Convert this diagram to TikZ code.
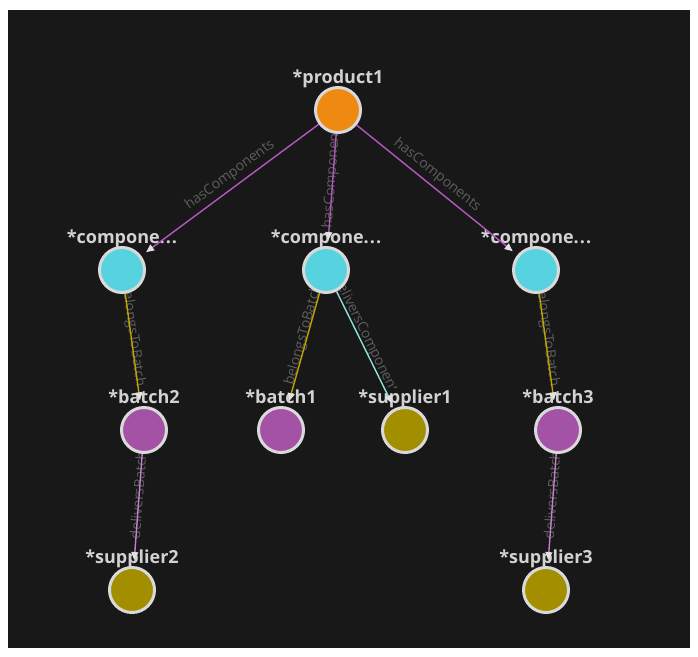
\documentclass[tikz,border=0pt]{standalone}
\usepackage{fontspec}
\setmainfont{Open Sans}
\usetikzlibrary{arrows.meta,calc}

\definecolor{canvasbg}{HTML}{181818}
\definecolor{ringc}{HTML}{D9D9D9}
\definecolor{namec}{HTML}{D2D2D2}
\definecolor{edgetextc}{HTML}{5E5E5E}
\definecolor{arrowc}{HTML}{E2E2E2}
\definecolor{prodc}{HTML}{EE8A12}
\definecolor{compc}{HTML}{57D3E0}
\definecolor{batchc}{HTML}{A352A5}
\definecolor{supc}{HTML}{A38E00}
\definecolor{hascc}{HTML}{B457C0}
\definecolor{belongc}{HTML}{BFA300}
\definecolor{delcc}{HTML}{8FE0DC}
\definecolor{delbc}{HTML}{C97DD0}

\pgfdeclarelayer{bg}
\pgfdeclarelayer{edgetext}
\pgfdeclarelayer{names}
\pgfdeclarelayer{edgeline}
\pgfsetlayers{bg,edgetext,names,edgeline,main}

% label of an edge: centred on the edge, lifted 15px, turned along it
\newcommand\edgetext[3]{%
  \path ($(#1)+(0,-15)$) -- ($(#2)+(0,-15)$) node[elab,midway,sloped]{#3};}

\begin{document}
\begin{tikzpicture}[x=1pt,y=-1pt,
  gnode/.style={circle,draw=ringc,line width=3pt,minimum size=45pt,inner sep=0pt},
  prodnode/.style={gnode,fill=prodc},
  compnode/.style={gnode,fill=compc},
  batchnode/.style={gnode,fill=batchc},
  supnode/.style={gnode,fill=supc},
  nlab/.style={anchor=base,inner sep=1pt,fill=canvasbg,text=namec,
    font=\fontsize{18}{18}\selectfont\bfseries},
  elab/.style={inner sep=0pt,text=edgetextc,font=\fontsize{14}{14}\selectfont},
  gedge/.style={line width=1.4pt,shorten >=6pt,
    -{Triangle[length=8pt,width=7pt,color=arrowc]}},
  hasc/.style={gedge,draw=hascc},
  belongs/.style={gedge,draw=belongc},
  delc/.style={gedge,draw=delcc},
  delb/.style={gedge,draw=delbc}]

\useasboundingbox (0,0) rectangle (698,656);
\begin{pgfonlayer}{bg}
  \fill[white] (0,0) rectangle (698,656);
  \fill[canvasbg] (8,10) rectangle (690,648);
\end{pgfonlayer}

% vertices
\node[prodnode]  (p1) at (338,110) {};
\node[compnode]  (cl) at (122,270) {};
\node[compnode]  (cm) at (326,270) {};
\node[compnode]  (cr) at (536,270) {};
\node[batchnode] (b2) at (144,430) {};
\node[batchnode] (b1) at (281,430) {};
\node[supnode]   (s1) at (405,430) {};
\node[batchnode] (b3) at (558,430) {};
\node[supnode]   (s2) at (132,590) {};
\node[supnode]   (s3) at (546,590) {};

% vertex names
\begin{pgfonlayer}{names}
  \node[nlab] (p1n) at ($(p1)+(0,-27)$) {*product1};
  \node[nlab] (cln) at ($(cl)+(0,-27)$) {*compone.\kern1pt.\kern1pt.};
  \node[nlab] (cmn) at ($(cm)+(0,-27)$) {*compone.\kern1pt.\kern1pt.};
  \node[nlab] (crn) at ($(cr)+(0,-27)$) {*compone.\kern1pt.\kern1pt.};
  \node[nlab] (b2n) at ($(b2)+(0,-27)$) {*batch2};
  \node[nlab] (b1n) at ($(b1)+(0,-27)$) {*batch1};
  \node[nlab] (s1n) at ($(s1)+(0,-27)$) {*supplier1};
  \node[nlab] (b3n) at ($(b3)+(0,-27)$) {*batch3};
  \node[nlab] (s2n) at ($(s2)+(0,-27)$) {*supplier2};
  \node[nlab] (s3n) at ($(s3)+(0,-27)$) {*supplier3};
\end{pgfonlayer}

% relationships
\begin{pgfonlayer}{edgeline}
  \draw[hasc] (p1) -- (cl);
  \draw[hasc] (p1) -- (cm);
  \draw[hasc] (p1) -- (cr);
  \draw[belongs] (cl) -- (b2);
  \draw[belongs] (cm) -- (b1);
  \draw[delc] (cm) -- (s1);
  \draw[belongs] (cr) -- (b3);
  \draw[delb] (b2) -- (s2);
  \draw[delb] (b3) -- (s3);
\end{pgfonlayer}

\begin{pgfonlayer}{edgetext}
  \edgetext{p1}{cl}{hasComponents}
  \edgetext{p1}{cm}{hasComponents}
  \edgetext{p1}{cr}{hasComponents}
  \edgetext{cl}{b2}{belongsToBatch}
  \edgetext{cm}{b1}{belongsToBatch}
  \edgetext{cm}{s1}{deliversComponent}
  \edgetext{cr}{b3}{belongsToBatch}
  \edgetext{b2}{s2}{deliversBatch}
  \edgetext{b3}{s3}{deliversBatch}
\end{pgfonlayer}
\end{tikzpicture}
\end{document}
